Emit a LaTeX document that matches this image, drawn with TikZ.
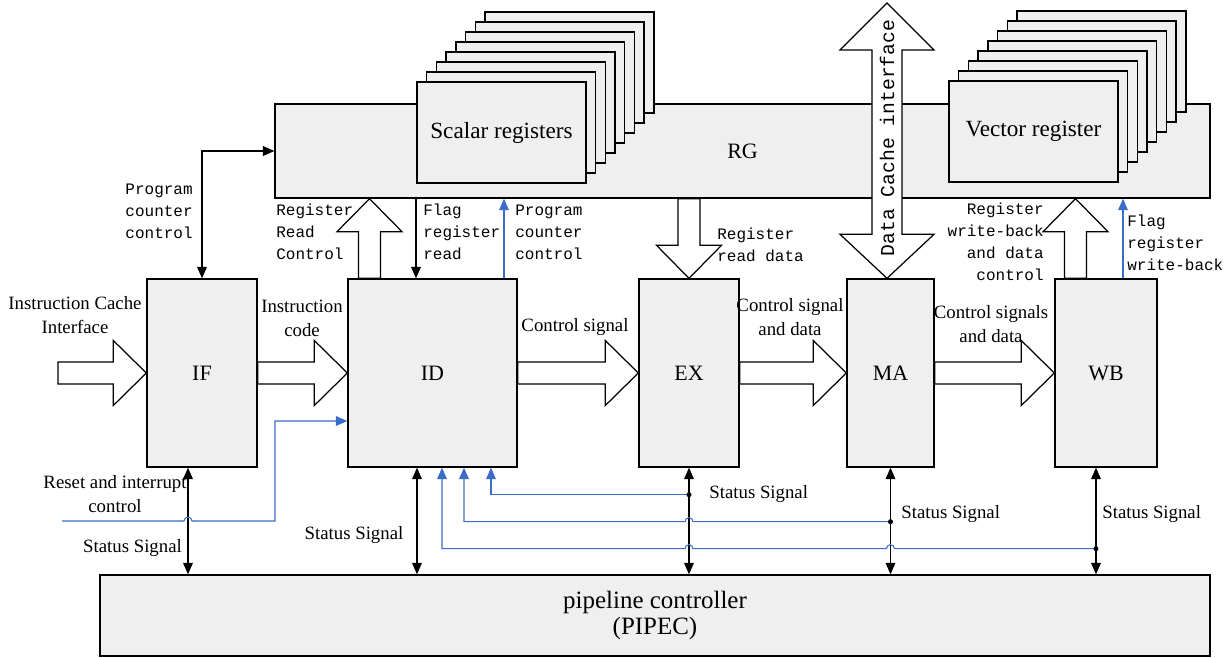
\documentclass[tikz,border=0pt]{standalone}
\usepackage{fontspec}
\setmainfont{Liberation Serif}
\setmonofont{Liberation Mono}
\usetikzlibrary{positioning,calc,arrows.meta}
\definecolor{boxgray}{RGB}{239,239,239}
\definecolor{sigblue}{RGB}{58,108,200}

\newcommand{\shaftw}{0.22cm}
\newcommand{\headw}{0.65cm}
\newcommand{\headl}{0.66cm}

% block arrow from #1 to the tip #2
\newcommand{\blockarrow}[2]{%
  \path (#1) coordinate (ba-s) (#2) coordinate (ba-e);
  \coordinate (ba-h) at ($(ba-e)!\headl!(ba-s)$);
  \draw[bigarrow] ($(ba-s)!\shaftw!90:(ba-e)$) -- ($(ba-h)!\shaftw!-90:(ba-s)$)
    -- ($(ba-h)!\headw!-90:(ba-s)$) -- (ba-e) -- ($(ba-h)!\headw!90:(ba-s)$)
    -- ($(ba-h)!\shaftw!90:(ba-s)$) -- ($(ba-s)!\shaftw!-90:(ba-e)$) -- cycle;}

% block arrow with a head at both ends
\newcommand{\dblockarrow}[2]{%
  \path (#1) coordinate (da-s) (#2) coordinate (da-e);
  \coordinate (da-h1) at ($(da-s)!0.94cm!(da-e)$);
  \coordinate (da-h2) at ($(da-e)!0.88cm!(da-s)$);
  \draw[bigarrow] (da-s) -- ($(da-h1)!0.94cm!90:(da-e)$) -- ($(da-h1)!0.3cm!90:(da-e)$)
    -- ($(da-h2)!0.3cm!-90:(da-s)$) -- ($(da-h2)!0.94cm!-90:(da-s)$) -- (da-e)
    -- ($(da-h2)!0.94cm!90:(da-s)$) -- ($(da-h2)!0.3cm!90:(da-s)$)
    -- ($(da-h1)!0.3cm!-90:(da-e)$) -- ($(da-h1)!0.94cm!-90:(da-e)$) -- cycle;}

\begin{document}
\begin{tikzpicture}[x=0.02cm, y=-0.02cm,
    >={Triangle[width=5.5pt,length=6.5pt]},
    stage/.style={draw, line width=0.8pt, fill=boxgray, minimum height=3.76cm, inner sep=0pt, font=\fontsize{12.5}{14}\selectfont},
    regbox/.style={draw, line width=0.8pt, fill=boxgray, minimum width=3.38cm, minimum height=2.02cm, inner sep=0pt, font=\fontsize{13.2}{15}\selectfont},
    bigarrow/.style={draw, line width=0.7pt, fill=white},
    sig/.style={line width=0.7pt},
    fb/.style={sigblue, line width=0.6pt},
    lbl/.style={font=\fontsize{10.7}{13.5}\selectfont, align=center, inner sep=0pt},
    mono/.style={font=\ttfamily\fontsize{9.1}{12.6}\selectfont, inner sep=0pt}]

    \useasboundingbox (0,0) rectangle (1232,657);

    % Register file and register stacks
    \node[draw, line width=0.8pt, fill=boxgray, minimum width=18.7cm, minimum height=1.88cm, inner sep=0pt, font=\fontsize{12.5}{14}\selectfont] (RG) at (742.5,151) {RG};
    \foreach \k in {7,...,1} {
        \node[regbox] (sr\k) at ({501.5+9.7*\k},{132.5-10*\k}) {};
        \node[regbox] (vr\k) at ({1033.5+9.7*\k},{131.5-10*\k}) {};
    }
    \node[regbox] (sr0) at (501.5,132.5) {Scalar registers};
    \node[regbox] (vr0) at (1033.5,131.5) {Vector register};

    % Pipeline stages
    \node[stage, minimum width=2.2cm]  (IF) at (202,373)   {IF};
    \node[stage, minimum width=3.38cm] (ID) at (432.5,373) {ID};
    \node[stage, minimum width=2.0cm]  (EX) at (689,373)   {EX};
    \node[stage, minimum width=1.74cm] (MA) at (890.5,373) {MA};
    \node[stage, minimum width=2.04cm] (WB) at (1106,373)  {WB};

    % Pipeline controller
    \node[draw, line width=0.8pt, fill=boxgray, minimum width=22.2cm, minimum height=1.62cm, inner sep=0pt, align=center, font=\fontsize{14.2}{14.8}\selectfont] (PIPEC) at (655,615.5) {pipeline controller\\(PIPEC)};

    % Data paths
    \coordinate (icache) at (58,373);
    \blockarrow{icache}{IF.west}
    \blockarrow{IF.east}{ID.west}
    \blockarrow{ID.east}{EX.west}
    \blockarrow{EX.east}{MA.west}
    \blockarrow{MA.east}{WB.west}
    \coordinate (rdctl) at ($(ID.north)+(-63,0)$);
    \blockarrow{rdctl}{rdctl |- RG.south}
    \blockarrow{EX.north |- RG.south}{EX.north}
    \coordinate (wbctl) at ($(WB.north)+(-30.5,0)$);
    \blockarrow{wbctl}{wbctl |- RG.south}
    \coordinate (dcache) at (887,3);
    \dblockarrow{dcache}{dcache |- MA.north}
    \node[rotate=90, inner sep=0pt, font=\ttfamily\fontsize{11.2}{13}\selectfont] (ldcache) at ($(dcache)+(0,135)$) {Data Cache interface};

    % Control lines
    \draw[sig, <->] (IF.north) |- (RG.west);
    \coordinate (flagrd) at ($(ID.north)+(-16.5,0)$);
    \draw[sig, ->] (flagrd |- RG.south) -- (flagrd);
    \coordinate (pcctl) at ($(ID.north)+(71.5,0)$);
    \draw[fb, ->] (pcctl) -- (pcctl |- RG.south);
    \coordinate (flagwb) at ($(WB.north)+(17,0)$);
    \draw[fb, ->] (flagwb) -- (flagwb |- RG.south);

    % Status signals
    \foreach \s/\dx in {IF/-14, ID/-15.5, EX/0, MA/0, WB/-10} {
        \coordinate (st\s) at ($(\s.south)+(\dx,0)$);
        \draw[sig, <->] (st\s) -- (st\s |- PIPEC.north);
    }
    \coordinate (dEX) at ($(stEX)+(0,27)$);
    \coordinate (dMA) at ($(stMA)+(0,54)$);
    \coordinate (dWB) at ($(stWB)+(0,81)$);
    \coordinate (inEX) at ($(ID.south)+(58.5,0)$);
    \coordinate (inMA) at ($(ID.south)+(31.5,0)$);
    \coordinate (inWB) at ($(ID.south)+(9.5,0)$);
    \draw[fb, ->] (dEX) -| (inEX);
    \draw[fb, ->] (dMA) -- ($(stEX |- dMA)+(4,0)$) arc[start angle=0, end angle=-180, radius=4] -| (inMA);
    \draw[fb, ->] (dWB) -- ($(stMA |- dWB)+(4,0)$) arc[start angle=0, end angle=-180, radius=4]
        -- ($(stEX |- dWB)+(4,0)$) arc[start angle=0, end angle=-180, radius=4] -| (inWB);
    \foreach \d in {dEX,dMA,dWB} \fill (\d) circle[radius=2.5];

    % Reset and interrupt
    \coordinate (rst) at (62,521);
    \draw[fb, ->] (rst) -- ($(stIF |- rst)+(-4,0)$) arc[start angle=180, end angle=360, radius=4]
        -- ($(rst)+(213,0)$) |- ($(ID.west)+(0,48)$);

    % Labels
    \node[lbl] (lcache) at (75,315) {Instruction Cache\\Interface};
    \node[lbl] (lcode) at (302,318) {Instruction\\code};
    \node[lbl] (lctl1) at (575,327) {Control signal};
    \node[lbl] (lctl2) at (790,317) {Control signal\\and data};
    \node[lbl] (lctl3) at (991,324) {Control signals\\and data};
    \node[lbl] (lrst) at (115,494) {Reset and interrupt\\control};
    \node[lbl] (lsIF) at (132.5,548) {Status Signal};
    \node[lbl] (lsID) at (354,535) {Status Signal};
    \node[lbl, anchor=west] (lsEX) at (709,494) {Status Signal};
    \node[lbl, anchor=west] (lsMA) at (901,514) {Status Signal};
    \node[lbl, anchor=west] (lsWB) at (1102,514) {Status Signal};

    \node[mono, align=right, anchor=east] (lpc) at (193,211) {Program\\counter\\control};
    \node[mono, align=left, anchor=west] (lrrc) at (276,232) {Register\\Read\\Control};
    \node[mono, align=left, anchor=west] (lfr) at (423,232) {Flag\\register\\read};
    \node[mono, align=left, anchor=west] (lpc2) at (515,232) {Program\\counter\\control};
    \node[mono, align=left, anchor=west] (lrd) at (717,245) {Register\\read data};
    \node[mono, align=right, anchor=east] (lwb) at (1044,241.5) {Register\\write-back\\and data\\control};
    \node[mono, align=left, anchor=west] (lfwb) at (1127,243) {Flag\\register\\write-back};
\end{tikzpicture}
\end{document}
